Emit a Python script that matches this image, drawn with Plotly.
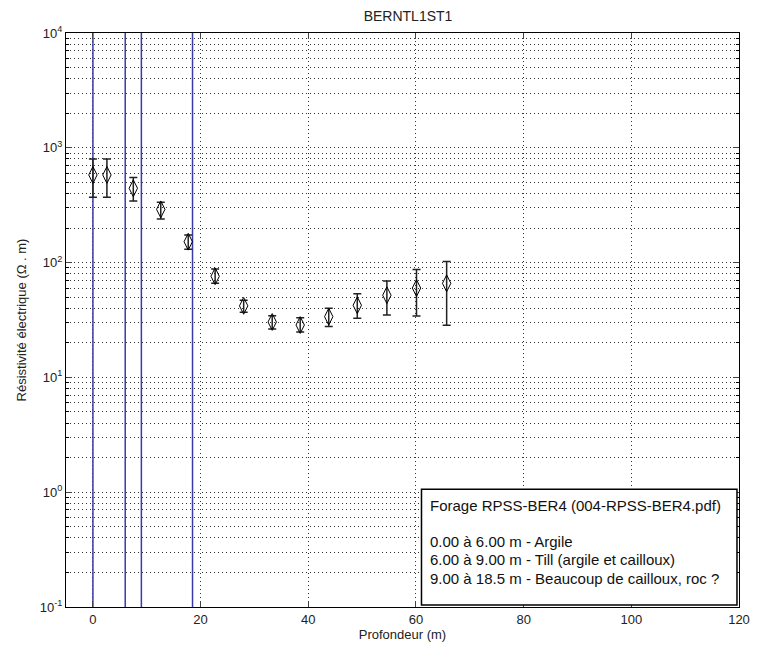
import plotly.graph_objects as go

# ---- data ----
depth = [0.0, 2.6, 7.5, 12.6, 17.7, 22.7, 28.0, 33.3, 38.5, 43.8, 49.1, 54.6, 60.1, 65.7]
rho = [580, 580, 444, 291, 152, 76, 42, 30.4, 28.6, 33.8, 42.5, 52, 60, 66]
rho_hi = [800, 800, 550, 335, 174, 88, 47, 34.5, 33, 40, 53.5, 69, 87, 102]
rho_lo = [371, 371, 344, 240, 131, 66, 37, 26.4, 24.8, 27.7, 32.7, 35, 34.3, 28.4]
boundaries = [0.0, 6.0, 9.0, 18.5]
xticks = [0, 20, 40, 60, 80, 100, 120]
yticks = [0.1, 1, 10, 100, 1000, 10000]
yticklabels = ["10<sup>-1</sup>", "10<sup>0</sup>", "10<sup>1</sup>", "10<sup>2</sup>",
               "10<sup>3</sup>", "10<sup>4</sup>"]
title = "BERNTL1ST1"
xlabel = "Profondeur (m)"
ylabel = "Résistivité électrique (Ω . m)"
legend_title = "Forage RPSS-BER4 (004-RPSS-BER4.pdf)"
legend_lines = ["0.00 à 6.00 m - Argile",
                "6.00 à 9.00 m - Till (argile et cailloux)",
                "9.00 à 18.5 m - Beaucoup de cailloux, roc ?"]

FONT = "Liberation Sans, Arial, sans-serif"
ML, MR, MT, MB = 66, 10, 33, 43
PW, PH = 760 - ML - MR, 650 - MT - MB
fig = go.Figure()

for b in boundaries:
    fig.add_trace(go.Scatter(x=[b, b], y=[yticks[0], yticks[-1]], mode="lines",
                             line=dict(color="#3a3aa8", width=1.5),
                             showlegend=False, hoverinfo="skip"))

err_plus = [h - r for h, r in zip(rho_hi, rho)]
err_minus = [r - l for r, l in zip(rho, rho_lo)]
fig.add_trace(go.Scatter(
    x=depth, y=rho, mode="markers",
    marker=dict(symbol="diamond-tall-open", size=12, color="black", line=dict(width=1, color="black")),
    error_y=dict(type="data", array=err_plus, arrayminus=err_minus, symmetric=False,
                 color="#222222", thickness=1.5, width=4),
    showlegend=False))

dot = "1px,3px"
fig.update_xaxes(range=[-5, 120], tickvals=xticks, ticks="inside", ticklen=6,
                 showline=True, linecolor="black", linewidth=1, mirror="allticks",
                 showgrid=True, gridcolor="#333333", griddash=dot, gridwidth=1,
                 ticklabeloverflow="allow",
                 zeroline=False, tickfont=dict(family=FONT, size=13, color="#222"),
                 title=dict(text=xlabel, font=dict(family=FONT, size=13, color="#222"), standoff=2))
fig.update_yaxes(type="log", range=[-1, 4], tickvals=yticks, ticktext=yticklabels,
                 ticks="inside", ticklen=6,
                 showline=True, linecolor="black", linewidth=1, mirror="allticks",
                 showgrid=True, gridcolor="#333333", griddash=dot, gridwidth=1,
                 minor=dict(dtick="D1", showgrid=True, gridcolor="#333333", griddash=dot,
                            gridwidth=1, ticks="inside", ticklen=3, tickcolor="black"),
                 zeroline=False, tickfont=dict(family=FONT, size=13, color="#222"),
                 title=dict(text=ylabel, font=dict(family=FONT, size=13, color="#222"), standoff=10))

# legend text box
x0, x1 = (427.3 - ML) / PW, 0.997
y0, y1 = (607 - 605) / PH, (607 - 489.3) / PH
fig.add_shape(type="rect", xref="paper", yref="paper", x0=x0, x1=x1, y0=y0, y1=y1,
              line=dict(color="black", width=1.5), fillcolor="white", layer="above")
lines_text = [legend_title, ""] + legend_lines
top_px = 505
for i, t in enumerate(lines_text):
    if not t:
        continue
    ypx = top_px + i * 18.3
    fig.add_annotation(xref="paper", yref="paper", x=(434 - ML) / PW, y=(607 - ypx) / PH,
                       xanchor="left", yanchor="middle", text=t, showarrow=False,
                       font=dict(family=FONT, size=15, color="#111"))

fig.update_layout(
    width=760, height=650,
    margin=dict(l=ML, r=MR, t=MT, b=MB),
    paper_bgcolor="white", plot_bgcolor="white",
    title=dict(text=title, x=(ML + 760 - MR) / 2 / 760, xanchor="center", y=1 - 16 / 650, yanchor="middle",
               font=dict(family=FONT, size=14, color="#222")),
    font=dict(family=FONT),
)

fig.write_html("out.html", config={"displayModeBar": False},
               post_script="document.body.style.margin='0';document.body.style.overflow='hidden';")
